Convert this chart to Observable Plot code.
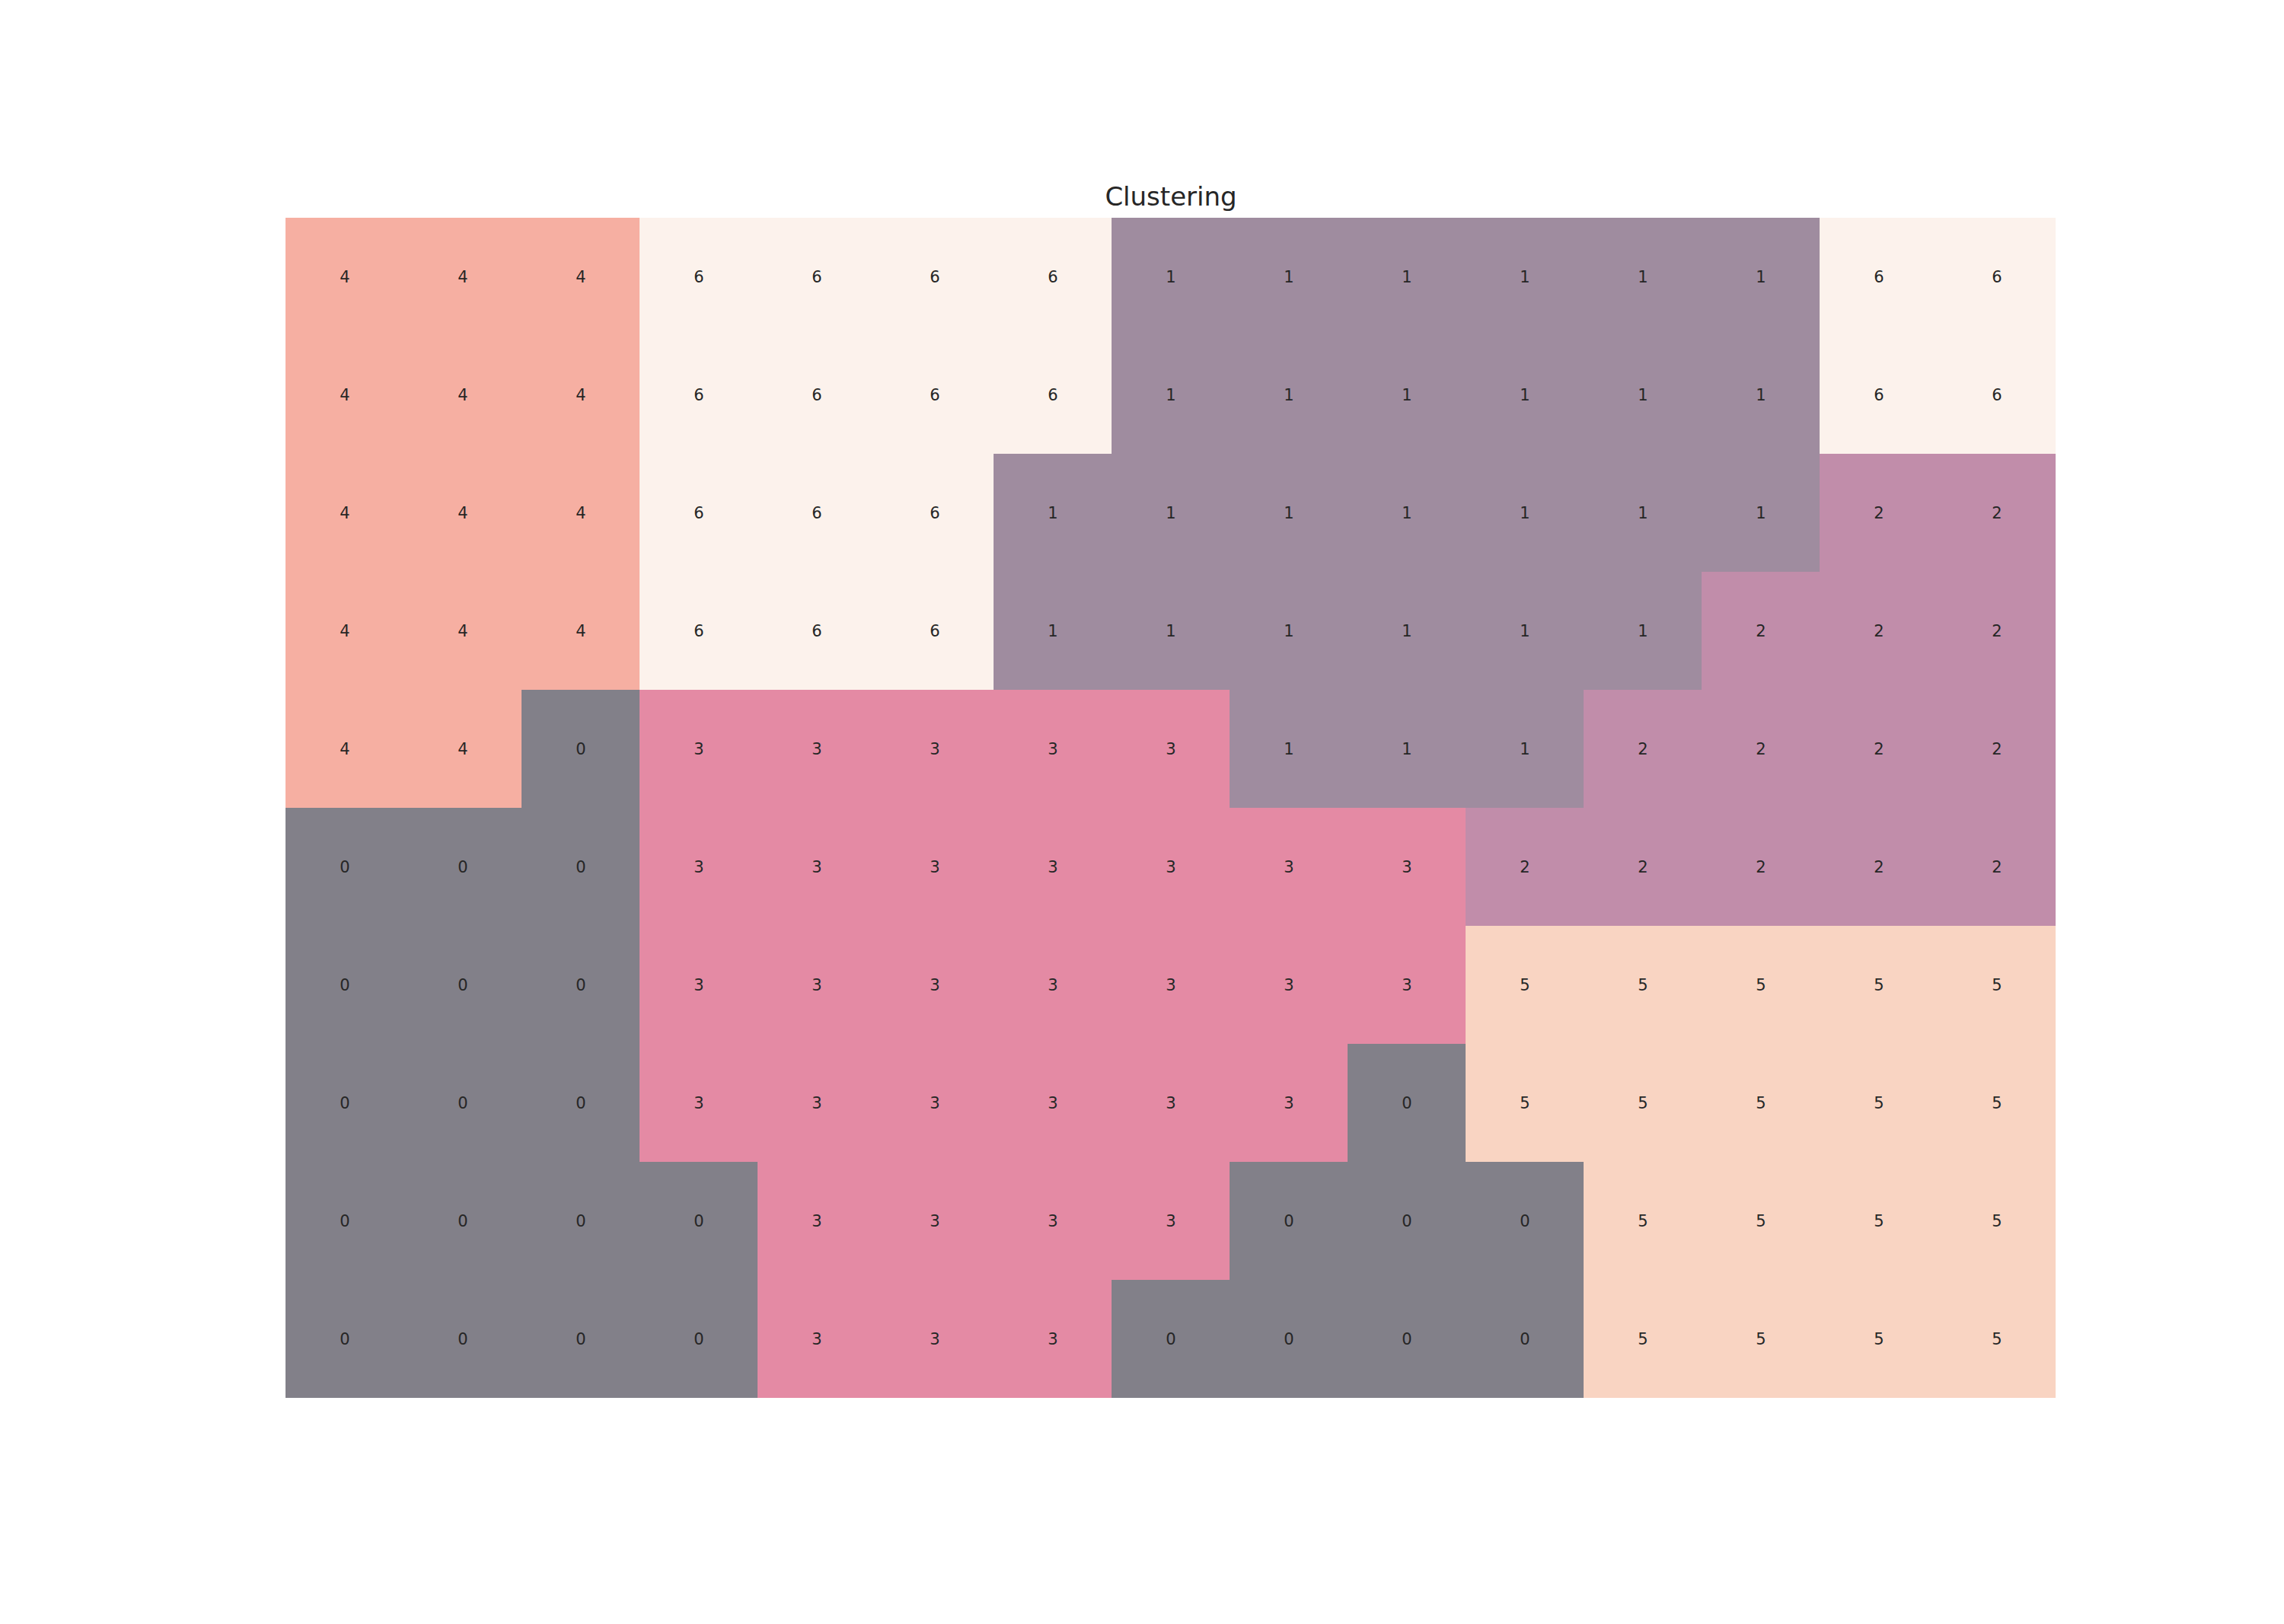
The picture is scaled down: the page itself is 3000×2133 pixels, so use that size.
<!DOCTYPE html>
<html>
<head>
<meta charset="utf-8">
<script src="https://cdn.jsdelivr.net/npm/d3@7"></script>
<script src="https://cdn.jsdelivr.net/npm/@observablehq/plot@0.6"></script>
<style>
  html, body { margin: 0; padding: 0; background: #fff; }
  #chart svg { display: block; }
</style>
</head>
<body>
<div id="chart"></div>
<script>
const title = "Clustering";
const clusterIds = [0, 1, 2, 3, 4, 5, 6];
const clusterColors = ["#828089", "#9F8C9F", "#C18DAA", "#E48AA4", "#F6AFA2", "#F9D4C2", "#FCF2EC"];
const row0 = [4, 4, 4, 6, 6, 6, 6, 1, 1, 1, 1, 1, 1, 6, 6];
const row1 = [4, 4, 4, 6, 6, 6, 6, 1, 1, 1, 1, 1, 1, 6, 6];
const row2 = [4, 4, 4, 6, 6, 6, 1, 1, 1, 1, 1, 1, 1, 2, 2];
const row3 = [4, 4, 4, 6, 6, 6, 1, 1, 1, 1, 1, 1, 2, 2, 2];
const row4 = [4, 4, 0, 3, 3, 3, 3, 3, 1, 1, 1, 2, 2, 2, 2];
const row5 = [0, 0, 0, 3, 3, 3, 3, 3, 3, 3, 2, 2, 2, 2, 2];
const row6 = [0, 0, 0, 3, 3, 3, 3, 3, 3, 3, 5, 5, 5, 5, 5];
const row7 = [0, 0, 0, 3, 3, 3, 3, 3, 3, 0, 5, 5, 5, 5, 5];
const row8 = [0, 0, 0, 0, 3, 3, 3, 3, 0, 0, 0, 5, 5, 5, 5];
const row9 = [0, 0, 0, 0, 3, 3, 3, 0, 0, 0, 0, 5, 5, 5, 5];
const grid = [row0, row1, row2, row3, row4, row5, row6, row7, row8, row9];

const cells = [];
grid.forEach((row, r) => row.forEach((v, c) => cells.push({row: r, col: c, cluster: v})));

const chart = Plot.plot({
  width: 3000,
  height: 2133,
  marginLeft: 375,
  marginRight: 300,
  marginTop: 286,
  marginBottom: 297,
  style: {fontFamily: "DejaVu Sans, sans-serif", background: "#ffffff"},
  x: {type: "band", domain: d3.range(row0.length), padding: 0, axis: null},
  y: {type: "band", domain: d3.range(grid.length), padding: 0, axis: null},
  color: {type: "ordinal", domain: clusterIds, range: clusterColors},
  marks: [
    Plot.cell(cells, {x: "col", y: "row", fill: "cluster", inset: 0}),
    Plot.text(cells, {x: "col", y: "row", text: d => String(d.cluster), fontSize: 21, fill: "#262626"}),
    Plot.text([title], {frameAnchor: "top", text: d => d, fontSize: 34, fill: "#262626", lineAnchor: "bottom", dy: -17})
  ]
});
document.getElementById("chart").appendChild(chart);
</script>
</body>
</html>
